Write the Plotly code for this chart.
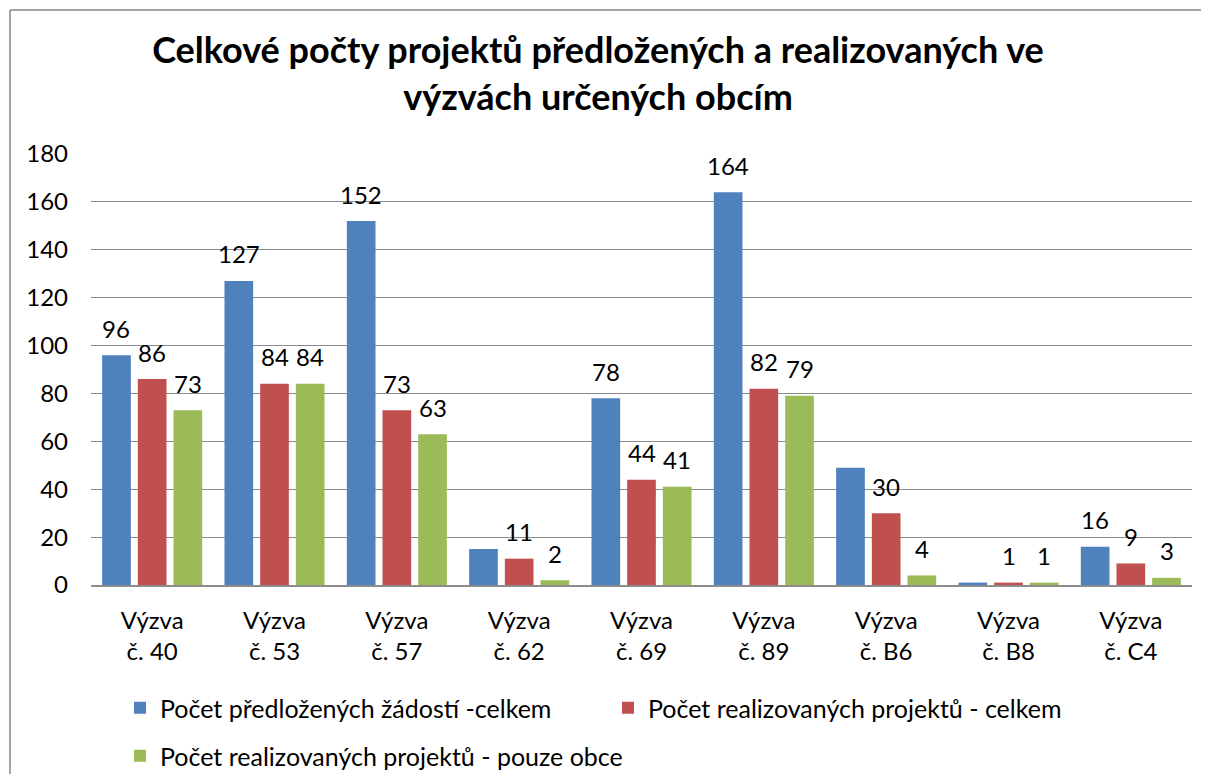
import plotly.graph_objects as go

categories = ["Výzva<br>č. 40", "Výzva<br>č. 53", "Výzva<br>č. 57", "Výzva<br>č. 62", "Výzva<br>č. 69",
              "Výzva<br>č. 89", "Výzva<br>č. B6", "Výzva<br>č. B8", "Výzva<br>č. C4"]
series_names = ["Počet předložených žádostí -celkem",
                "Počet realizovaných projektů - celkem",
                "Počet realizovaných projektů - pouze obce"]
predlozene = [96, 127, 152, 15, 78, 164, 49, 1, 16]
realizovane = [86, 84, 73, 11, 44, 82, 30, 1, 9]
obce = [73, 84, 63, 2, 41, 79, 4, 1, 3]
# data labels as shown in the reference (some are hidden there)
labels_predlozene = ["96", "127", "152", "", "78", "164", "", "", "16"]
labels_realizovane = ["86", "84", "73", "11", "44", "82", "30", "1", "9"]
labels_obce = ["73", "84", "63", "2", "41", "79", "4", "1", "3"]
y_ticks = [0, 20, 40, 60, 80, 100, 120, 140, 160, 180]

colors = ["#4F81BD", "#C0504D", "#9BBB59"]
FONT = "Lato, Carlito, Calibri, sans-serif"

# page has an 8px body margin; figure coordinates = page coordinates - 8
OFF = 8
W, H = 1209 - OFF, 782 - 2 * OFF
ML = 91 - OFF
MT = 154 - OFF
PR = 1192 - OFF   # plot right edge
PB = 585 - OFF    # plot bottom edge
MR = W - PR
MB = H - PB
PW = PR - ML
PH = PB - MT
group_px = PW / len(categories)
bargap = 0.125
slot_px = group_px * (1 - bargap) / 3


def py(page_y):
    return (PB - (page_y - OFF)) / PH


def px(page_x):
    return ((page_x - OFF) - ML) / PW


fig = go.Figure()
all_vals = [predlozene, realizovane, obce]
all_labels = [labels_predlozene, labels_realizovane, labels_obce]
legends = ["legend", "legend", "legend2"]
for i in range(3):
    fig.add_trace(go.Bar(
        x=categories, y=all_vals[i], name=series_names[i],
        marker=dict(color=colors[i], line=dict(width=0)),
        legend=legends[i], hoverinfo="skip",
    ))

annotations = []
for i in range(3):
    shift = (i - 1) * slot_px
    for c, v, t in zip(categories, all_vals[i], all_labels[i]):
        if not t:
            continue
        annotations.append(dict(
            x=c, y=v, xref="x", yref="y", text=t, showarrow=False,
            xshift=shift, yshift=27, yanchor="middle", xanchor="center",
            font=dict(family=FONT, size=24, color="#000000"),
        ))

border = dict(color="#868686", width=1.5)
fig.update_layout(
    width=W, height=H,
    margin=dict(l=ML, r=MR, t=MT, b=MB, autoexpand=False),
    paper_bgcolor="white", plot_bgcolor="white",
    barmode="group", bargap=bargap, bargroupgap=0.196,
    font=dict(family=FONT, size=24, color="#000000"),
    title=dict(
        text="<b>Celkové počty projektů předložených a realizovaných ve<br>výzvách určených obcím</b>",
        x=(598 - OFF) / W, xanchor="center", xref="container",
        y=1 - (63 - OFF) / H, yanchor="middle", yref="container",
        font=dict(family=FONT, size=36, color="#000000"),
    ),
    xaxis=dict(
        type="category", showgrid=False, showline=True, linecolor="#8c8c8c", linewidth=2,
        ticks="", tickfont=dict(family=FONT, size=24, color="#000000"),
        ticklabelstandoff=13, fixedrange=True,
    ),
    yaxis=dict(
        range=[0, 180], tickvals=y_ticks, showgrid=True, gridcolor="#8a8a8a", gridwidth=1,
        zeroline=False, showline=False, ticks="",
        tickfont=dict(family=FONT, size=24, color="#000000"),
        ticklabelstandoff=22, fixedrange=True,
    ),
    legend=dict(
        orientation="h", x=px(120), xanchor="left", y=py(708), yanchor="middle",
        entrywidth=443, entrywidthmode="pixels",
        font=dict(family=FONT, size=25, color="#000000"), bgcolor="rgba(0,0,0,0)",
    ),
    legend2=dict(
        orientation="h", x=px(120), xanchor="left", y=py(756), yanchor="middle",
        font=dict(family=FONT, size=25, color="#000000"), bgcolor="rgba(0,0,0,0)",
    ),
    annotations=annotations,
    shapes=[
        dict(type="line", xref="paper", yref="paper", x0=px(10), x1=(W - ML) / PW,
             y0=py(10), y1=py(10), line=border, layer="below"),
        dict(type="line", xref="paper", yref="paper", x0=px(10), x1=px(10),
             y0=py(10), y1=-MB / PH, line=border, layer="below"),
    ],
)

fig.write_html("out.html", config={"displayModeBar": False})
